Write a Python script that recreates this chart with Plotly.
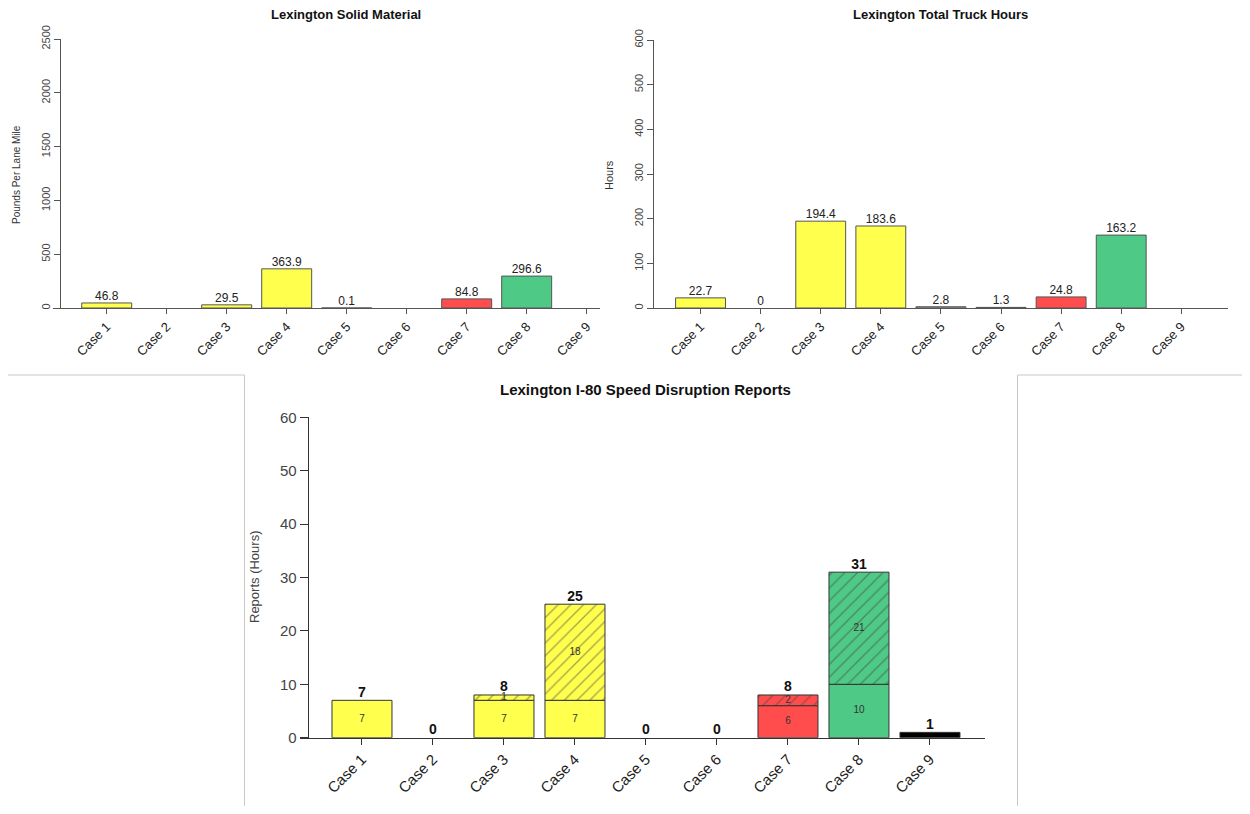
import plotly.graph_objects as go

# ---------------- data ----------------
cases = ["Case 1", "Case 2", "Case 3", "Case 4", "Case 5", "Case 6", "Case 7", "Case 8", "Case 9"]

solid_material = [46.8, 0, 29.5, 363.9, 0.1, 0, 84.8, 296.6, 0]
solid_labels = ["46.8", "", "29.5", "363.9", "0.1", "", "84.8", "296.6", ""]

truck_hours = [22.7, 0, 194.4, 183.6, 2.8, 1.3, 24.8, 163.2, 0]
truck_labels = ["22.7", "0", "194.4", "183.6", "2.8", "1.3", "24.8", "163.2", ""]

reports_base = [7, 0, 7, 7, 0, 0, 6, 10, 1]
reports_hatched = [0, 0, 1, 18, 0, 0, 2, 21, 0]
base_labels = ["7", "", "7", "7", "", "", "6", "10", ""]
hatched_labels = ["", "", "1", "18", "", "", "2", "21", ""]

YEL, RED, GRN, GRY, BLK = "#FFFF4D", "#FF4D4D", "#4EC986", "#A8A8A8", "#000000"
case_colors = [YEL, YEL, YEL, YEL, GRY, BLK, RED, GRN, BLK]

# page has an 8px body margin; size the figure so the page is exactly 1250x814
OFF = 8
W, H = 1250 - 2 * OFF, 814 - 2 * OFF
FONT = "Liberation Sans, Arial, sans-serif"
NARROW = "Liberation Sans Narrow, Liberation Sans, Arial, sans-serif"


def px_x(p):
    return (p - OFF) / W


def px_y(p):
    return 1 - (p - OFF) / H


def nz(vals):
    # zero-height bars are not drawn (no outline at the baseline)
    return [v if v else None for v in vals]


fig = go.Figure()

# ---------- top-left: solid material ----------
fig.add_trace(go.Bar(x=cases, y=nz(solid_material), width=0.833,
                     marker=dict(color=case_colors, line=dict(color="#555555", width=1)),
                     xaxis="x", yaxis="y", showlegend=False, hoverinfo="x+y"))
fig.add_trace(go.Scatter(x=cases, y=solid_material, text=solid_labels, mode="text",
                         textposition="top center",
                         textfont=dict(family=FONT, size=12, color="#222222"),
                         xaxis="x", yaxis="y", showlegend=False, hoverinfo="skip"))

# ---------- top-right: truck hours ----------
fig.add_trace(go.Bar(x=cases, y=nz(truck_hours), width=0.83,
                     marker=dict(color=case_colors, line=dict(color="#555555", width=1)),
                     xaxis="x2", yaxis="y2", showlegend=False, hoverinfo="x+y"))
fig.add_trace(go.Scatter(x=cases, y=truck_hours, text=truck_labels, mode="text",
                         textposition="top center",
                         textfont=dict(family=FONT, size=12, color="#222222"),
                         xaxis="x2", yaxis="y2", showlegend=False, hoverinfo="skip"))

# ---------- bottom: speed disruption reports (stacked) ----------
fig.add_trace(go.Bar(x=cases, y=nz(reports_base), width=0.845,
                     marker=dict(color=case_colors, line=dict(color="#333333", width=1)),
                     xaxis="x3", yaxis="y3", showlegend=False, hoverinfo="x+y"))
fig.add_trace(go.Bar(x=cases, y=nz(reports_hatched), width=0.845,
                     marker=dict(color=case_colors, line=dict(color="#333333", width=1),
                                 pattern=dict(shape="/", size=9, solidity=0.14,
                                              fgcolor="#000000", bgcolor=case_colors)),
                     xaxis="x3", yaxis="y3", showlegend=False, hoverinfo="x+y"))

base_mid = [b / 2 for b in reports_base]
hatch_mid = [b + h / 2 for b, h in zip(reports_base, reports_hatched)]
totals = [b + h for b, h in zip(reports_base, reports_hatched)]

fig.add_trace(go.Scatter(x=cases, y=base_mid, text=base_labels, mode="text",
                         textposition="middle center",
                         textfont=dict(family=NARROW, size=10, color="#333333"),
                         xaxis="x3", yaxis="y3", showlegend=False, hoverinfo="skip"))
fig.add_trace(go.Scatter(x=cases, y=hatch_mid, text=hatched_labels, mode="text",
                         textposition="middle center",
                         textfont=dict(family=NARROW, size=10, color="#333333"),
                         xaxis="x3", yaxis="y3", showlegend=False, hoverinfo="skip"))
fig.add_trace(go.Scatter(x=cases, y=totals, text=[f"<b>{t}</b>" for t in totals], mode="text",
                         textposition="top center",
                         textfont=dict(family=NARROW, size=14, color="#111111"),
                         xaxis="x3", yaxis="y3", showlegend=False, hoverinfo="skip"))

AX = "#555555"

common_x = dict(type="category", showline=True, linecolor=AX, linewidth=1, ticks="outside",
                ticklen=5, tickcolor=AX, showgrid=False, zeroline=False, tickangle=-45,
                fixedrange=True, automargin=False)
common_y = dict(showline=True, linecolor=AX, linewidth=1, ticks="outside", ticklen=6,
                tickcolor=AX, showgrid=False, zeroline=False, anchor="free", fixedrange=True,
                automargin=False)


def ann(text, x, y, size, family=FONT, color="#111111", angle=0):
    return dict(text=text, x=px_x(x), y=px_y(y), xref="paper", yref="paper",
                xanchor="center", yanchor="middle", showarrow=False, textangle=angle,
                font=dict(family=family, size=size, color=color))


def vline(x, y0, y1):
    return dict(type="line", xref="paper", yref="paper", x0=px_x(x), x1=px_x(x),
                y0=px_y(y0), y1=px_y(y1), line=dict(color="#C8C8C8", width=1))


def hline(y, x0, x1):
    return dict(type="line", xref="paper", yref="paper", x0=px_x(x0), x1=px_x(x1),
                y0=px_y(y), y1=px_y(y), line=dict(color="#C8C8C8", width=1))


fig.update_layout(
    width=W, height=H, autosize=False,
    margin=dict(l=0, r=0, t=0, b=0, pad=0),
    paper_bgcolor="white", plot_bgcolor="rgba(0,0,0,0)",
    barmode="relative",
    xaxis=dict(common_x, domain=[px_x(53), px_x(600)], range=[-0.895, 8.222], anchor="y",
               tickfont=dict(family=FONT, size=13, color="#222222")),
    yaxis=dict(common_y, domain=[px_y(308), px_y(39)], range=[0, 2500],
               position=px_x(60), tickvals=[0, 500, 1000, 1500, 2000, 2500], tickangle=-90,
               tickfont=dict(family=FONT, size=11, color="#444444")),
    xaxis2=dict(common_x, domain=[px_x(648), px_x(1228)], range=[-0.874, 8.777], anchor="y2",
                tickfont=dict(family=FONT, size=13, color="#222222")),
    yaxis2=dict(common_y, domain=[px_y(308), px_y(40)], range=[0, 600],
                position=px_x(653), tickvals=[0, 100, 200, 300, 400, 500, 600], tickangle=-90,
                tickfont=dict(family=FONT, size=11, color="#444444")),
    xaxis3=dict(common_x, domain=[px_x(300), px_x(985)], range=[-0.873, 8.775], anchor="y3",
                ticklen=6, linecolor="#333333", tickcolor="#333333",
                tickfont=dict(family=NARROW, size=15, color="#222222")),
    yaxis3=dict(common_y, domain=[px_y(737.7), px_y(417.3)], range=[0, 60],
                position=px_x(307.7), tickvals=[0, 10, 20, 30, 40, 50, 60], tickangle=0,
                ticklen=8, linecolor="#333333", tickcolor="#333333",
                tickfont=dict(family=NARROW, size=15, color="#444444")),
    annotations=[
        ann("<b>Lexington Solid Material</b>", 346, 14, 13),
        ann("<b>Lexington Total Truck Hours</b>", 940, 14, 13),
        ann("<b>Lexington I-80 Speed Disruption Reports</b>", 645, 389, 15, family=NARROW),
        ann("Pounds Per Lane Mile", 16, 175, 10, color="#333333", angle=-90),
        ann("Hours", 609, 175, 11, color="#333333", angle=-90),
        ann("Reports (Hours)", 254, 577, 13, color="#444444", angle=-90),
    ],
    shapes=[
        hline(375, OFF, 244.5),
        vline(244.5, 375, 814 - OFF),
        hline(375, 1017.5, 1250 - OFF),
        vline(1017.5, 375, 814 - OFF),
    ],
)

fig.write_html("out.html")
